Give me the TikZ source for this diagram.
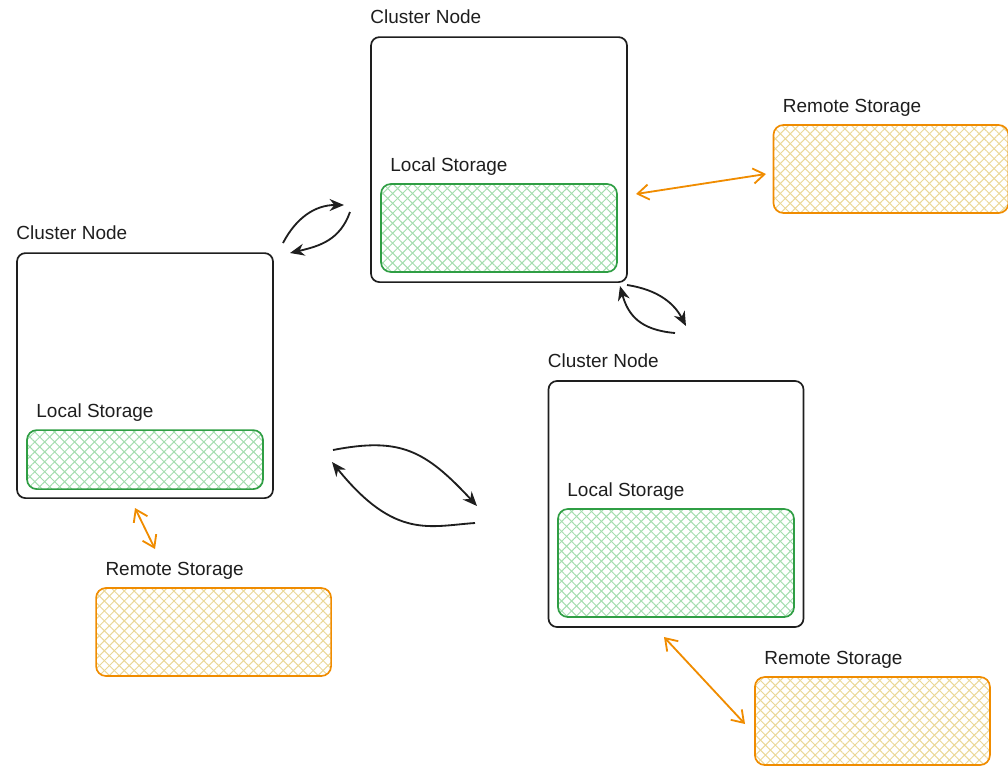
\documentclass[tikz,border=0pt]{standalone}
\usepackage{fontspec}
\setmainfont{Liberation Sans}
\usepackage{xcolor}
\usepackage{tikz}
\usetikzlibrary{positioning, arrows.meta, patterns.meta}

\definecolor{inkblack}{HTML}{1E1E1E}
\definecolor{localgreen}{HTML}{2F9E44}
\definecolor{localhatch}{HTML}{A3DDAE}
\definecolor{remoteorange}{HTML}{F08C00}
\definecolor{remotehatch}{HTML}{EAD796}

\begin{document}
\begin{tikzpicture}[
  font=\fontsize{13.5}{16}\selectfont,
  every node/.style={align=left},
  hatch/.style={
    preaction={pattern={Lines[angle=45,distance=5pt,line width=0.7pt]}, pattern color=#1},
    preaction={pattern={Lines[angle=-45,distance=5pt,line width=0.7pt]}, pattern color=#1}},
  cluster/.style={rectangle, rounded corners=6pt, draw=inkblack, line width=1.2pt,
                  minimum width=6.4cm, minimum height=6.125cm},
  localbox/.style={rectangle, rounded corners=7pt, draw=localgreen, line width=1.2pt,
                   hatch=localhatch, minimum width=5.9cm},
  remotebox/.style={rectangle, rounded corners=7pt, draw=remoteorange, line width=1.2pt,
                    hatch=remotehatch, minimum width=5.875cm, minimum height=2.2cm},
  lbl/.style={inner sep=0pt, text=inkblack},
  sync/.style={-{Stealth[length=3.6mm,width=3mm]}, line width=1.3pt, draw=inkblack},
  fetch/.style={{Straight Barb[length=2.8mm,width=3.8mm]}-{Straight Barb[length=2.8mm,width=3.8mm]},
                line width=1.3pt, draw=remoteorange}
]
\useasboundingbox (0,0) rectangle (25.2,-19.125);

% --- Cluster nodes ---
\node[cluster] (top) at (12.475,-3.99) {};
\node[cluster] (left) at (3.625,-9.39) {};
\node[cluster, minimum width=6.375cm, minimum height=6.15cm] (right) at (16.9,-12.6) {};

\node[lbl, above right=0.3cm and 0cm of top.north west] (toplbl) {Cluster Node};
\node[lbl, above right=0.3cm and 0cm of left.north west] (leftlbl) {Cluster Node};
\node[lbl, above right=0.3cm and 0cm of right.north west] (rightlbl) {Cluster Node};

% --- Local storage ---
\node[localbox, minimum height=2.2cm] (toploc) at (12.475,-5.7) {};
\node[localbox, minimum height=1.475cm] (leftloc) at (3.625,-11.49) {};
\node[localbox, minimum height=2.7cm] (rightloc) at (16.9,-14.075) {};

\node[lbl, above right=0.18cm and 0.25cm of toploc.north west] (toploclbl) {Local Storage};
\node[lbl, above right=0.18cm and 0.25cm of leftloc.north west] (leftloclbl) {Local Storage};
\node[lbl, above right=0.18cm and 0.25cm of rightloc.north west] (rightloclbl) {Local Storage};

% --- Remote storage ---
\node[remotebox] (topremote) at (22.275,-4.225) {};
\node[remotebox] (leftremote) at (5.34,-15.8) {};
\node[remotebox] (rightremote) at (21.81,-18.025) {};

\node[lbl, above right=0.18cm and 0.25cm of topremote.north west] (topremotelbl) {Remote Storage};
\node[lbl, above right=0.18cm and 0.25cm of leftremote.north west] (leftremotelbl) {Remote Storage};
\node[lbl, above right=0.18cm and 0.25cm of rightremote.north west] (rightremotelbl) {Remote Storage};

% --- Arrow end points ---
\coordinate (a1) at (7.075,-6.075);  \coordinate (a2) at (8.6,-5.125);
\coordinate (a3) at (8.75,-5.3);     \coordinate (a4) at (7.25,-6.325);
\coordinate (b1) at (15.675,-7.125); \coordinate (b2) at (17.15,-8.15);
\coordinate (b3) at (16.875,-8.325); \coordinate (b4) at (15.5,-7.15);
\coordinate (c1) at (8.325,-11.25);  \coordinate (c2) at (11.925,-12.65);
\coordinate (c3) at (11.875,-13.075);\coordinate (c4) at (8.3,-11.55);

% --- Sync arrows between cluster nodes ---
\draw[sync] (a1) .. controls (7.4,-5.45) and (7.875,-5.125) .. (a2);
\draw[sync] (a3) .. controls (8.5,-6.0) and (8.0,-6.15) .. (a4);
\draw[sync] (b1) .. controls (16.5,-7.25) and (16.875,-7.625) .. (b2);
\draw[sync] (b3) .. controls (16.0,-8.25) and (15.7,-7.875) .. (b4);
\draw[sync] (c1) .. controls (10.0,-10.925) and (10.625,-11.25) .. (c2);
\draw[sync] (c3) .. controls (10.75,-13.15) and (9.875,-13.5) .. (c4);

% --- Remote storage links ---
\coordinate (r1) at (15.9,-4.85);  \coordinate (r2) at (19.15,-4.35);
\coordinate (r3) at (3.375,-12.7); \coordinate (r4) at (3.875,-13.725);
\coordinate (r5) at (16.6,-15.925);\coordinate (r6) at (18.625,-18.1);
\draw[fetch] (r1) -- (r2);
\draw[fetch] (r3) -- (r4);
\draw[fetch] (r5) -- (r6);

\end{tikzpicture}
\end{document}
